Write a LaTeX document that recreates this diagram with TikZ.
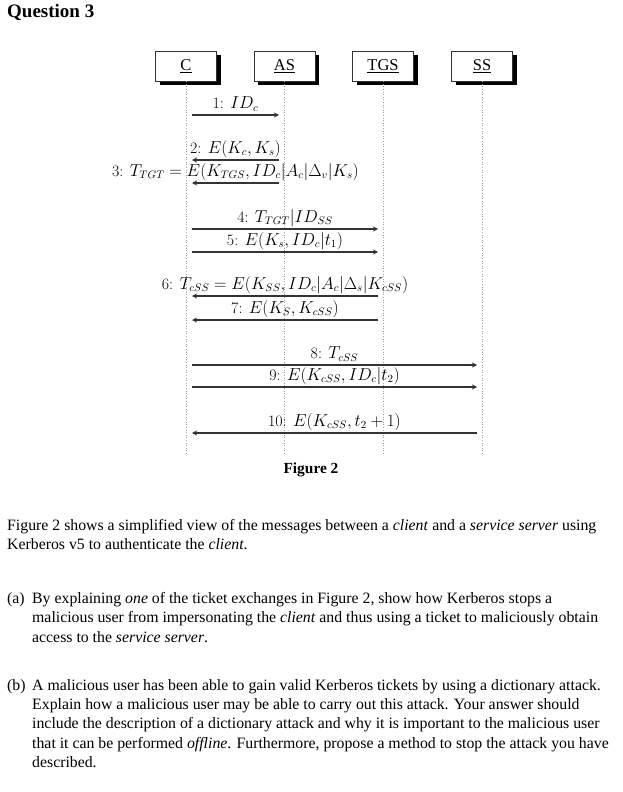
\documentclass[tikz,border=0pt]{standalone}
\usepackage{fontspec}
\setmainfont{Liberation Serif}
\newfontfamily\lmfont{Latin Modern Roman}
\usetikzlibrary{shadows,arrows.meta}
\begin{document}
\begin{tikzpicture}[x=1pt,y=-1pt,
  actor/.style={draw=black!80, fill=white, minimum width=61pt, minimum height=30pt, inner sep=0pt,
    font=\fontsize{16.5}{18}\selectfont,
    drop shadow={shadow xshift=4pt, shadow yshift=-4pt, fill=black, opacity=1}},
  life/.style={draw=gray!75, dotted, line width=0.6pt},
  msgarrow/.style={-{Stealth[length=5pt,width=5pt,inset=1.5pt]}, draw=black!80, line width=1.1pt},
  lab/.style={font=\lmfont\fontsize{15.9}{17}\selectfont, inner sep=0pt, yshift=11pt},
  para/.style={font=\fontsize{15.8}{19.4}\selectfont, align=left, anchor=north west, inner sep=0pt}]
\useasboundingbox (0,0) rectangle (623,792);

\node[font=\bfseries\fontsize{19}{21}\selectfont, anchor=base west, inner sep=0pt] (title) at (7,18) {Question 3};

% actors
\node[actor] (C) at (186,66) {\underline{C}};
\node[actor] (AS) at (284.5,66) {\underline{AS}};
\node[actor] (TGS) at (383,66) {\underline{TGS}};
\node[actor] (SS) at (482,66) {\underline{SS}};

% lifeline ends
\coordinate (Ce) at (186,455);
\coordinate (ASe) at (284.5,455);
\coordinate (TGSe) at (383,455);
\coordinate (SSe) at (482,455);
\draw[life] (C.south) -- (Ce);
\draw[life] (AS.south) -- (ASe);
\draw[life] (TGS.south) -- (TGSe);
\draw[life] (SS.south) -- (SSe);

% message endpoints
\coordinate (m1a) at (192,115);  \coordinate (m1b) at (279,115);
\coordinate (m2a) at (279,160);  \coordinate (m2b) at (192,160);
\coordinate (m3a) at (279,183);  \coordinate (m3b) at (192,183);
\coordinate (m4a) at (192,229);  \coordinate (m4b) at (378,229);
\coordinate (m5a) at (192,252);  \coordinate (m5b) at (378,252);
\coordinate (m6a) at (378,296);  \coordinate (m6b) at (192,296);
\coordinate (m7a) at (378,320);  \coordinate (m7b) at (192,320);
\coordinate (m8a) at (192,365);  \coordinate (m8b) at (477,365);
\coordinate (m9a) at (192,387);  \coordinate (m9b) at (477,387);
\coordinate (m10a) at (477,433); \coordinate (m10b) at (192,433);

\draw[msgarrow] (m1a) -- node[lab] (l1) {1: $ID_c$} (m1b);
\draw[msgarrow] (m2a) -- node[lab] (l2) {2: $E(K_c,K_s)$} (m2b);
\draw[msgarrow] (m3a) -- node[lab] (l3) {3: $T_{TGT}=E(K_{TGS},ID_c|A_c|\Delta_v|K_s)$} (m3b);
\draw[msgarrow] (m4a) -- node[lab] (l4) {4: $T_{TGT}|ID_{SS}$} (m4b);
\draw[msgarrow] (m5a) -- node[lab] (l5) {5: $E(K_s,ID_c|t_1)$} (m5b);
\draw[msgarrow] (m6a) -- node[lab] (l6) {6: $T_{cSS}=E(K_{SS},ID_c|A_c|\Delta_s|K_{cSS})$} (m6b);
\draw[msgarrow] (m7a) -- node[lab] (l7) {7: $E(K_S,K_{cSS})$} (m7b);
\draw[msgarrow] (m8a) -- node[lab] (l8) {8: $T_{cSS}$} (m8b);
\draw[msgarrow] (m9a) -- node[lab] (l9) {9: $E(K_{cSS},ID_c|t_2)$} (m9b);
\draw[msgarrow] (m10a) -- node[lab] (l10) {10: $E(K_{cSS},t_2+1)$} (m10b);

\node[font=\bfseries\fontsize{15.4}{17}\selectfont, inner sep=0pt] (fig) at (311,470) {Figure 2};

% text
\node[para] (p1) at (7,519) {Figure 2 shows a simplified view of the messages between a \textit{client} and a \textit{service server} using\\
Kerberos v5 to authenticate the \textit{client}.};

\node[para] (alab) at (7,592) {(a)};
\node[para] (a) at (32,592) {By explaining \textit{one} of the ticket exchanges in Figure 2, show how Kerberos stops a\\
malicious user from impersonating the \textit{client} and thus using a ticket to maliciously obtain\\
access to the \textit{service server}.};

\node[para] (blab) at (7,679) {(b)};
\node[para] (b) at (32,679) {A malicious user has been able to gain valid Kerberos tickets by using a dictionary attack.\\
Explain how a malicious user may be able to carry out this attack. Your answer should\\
include the description of a dictionary attack and why it is important to the malicious user\\
that it can be performed \textit{offline}. Furthermore, propose a method to stop the attack you have\\
described.};
\end{tikzpicture}
\end{document}
